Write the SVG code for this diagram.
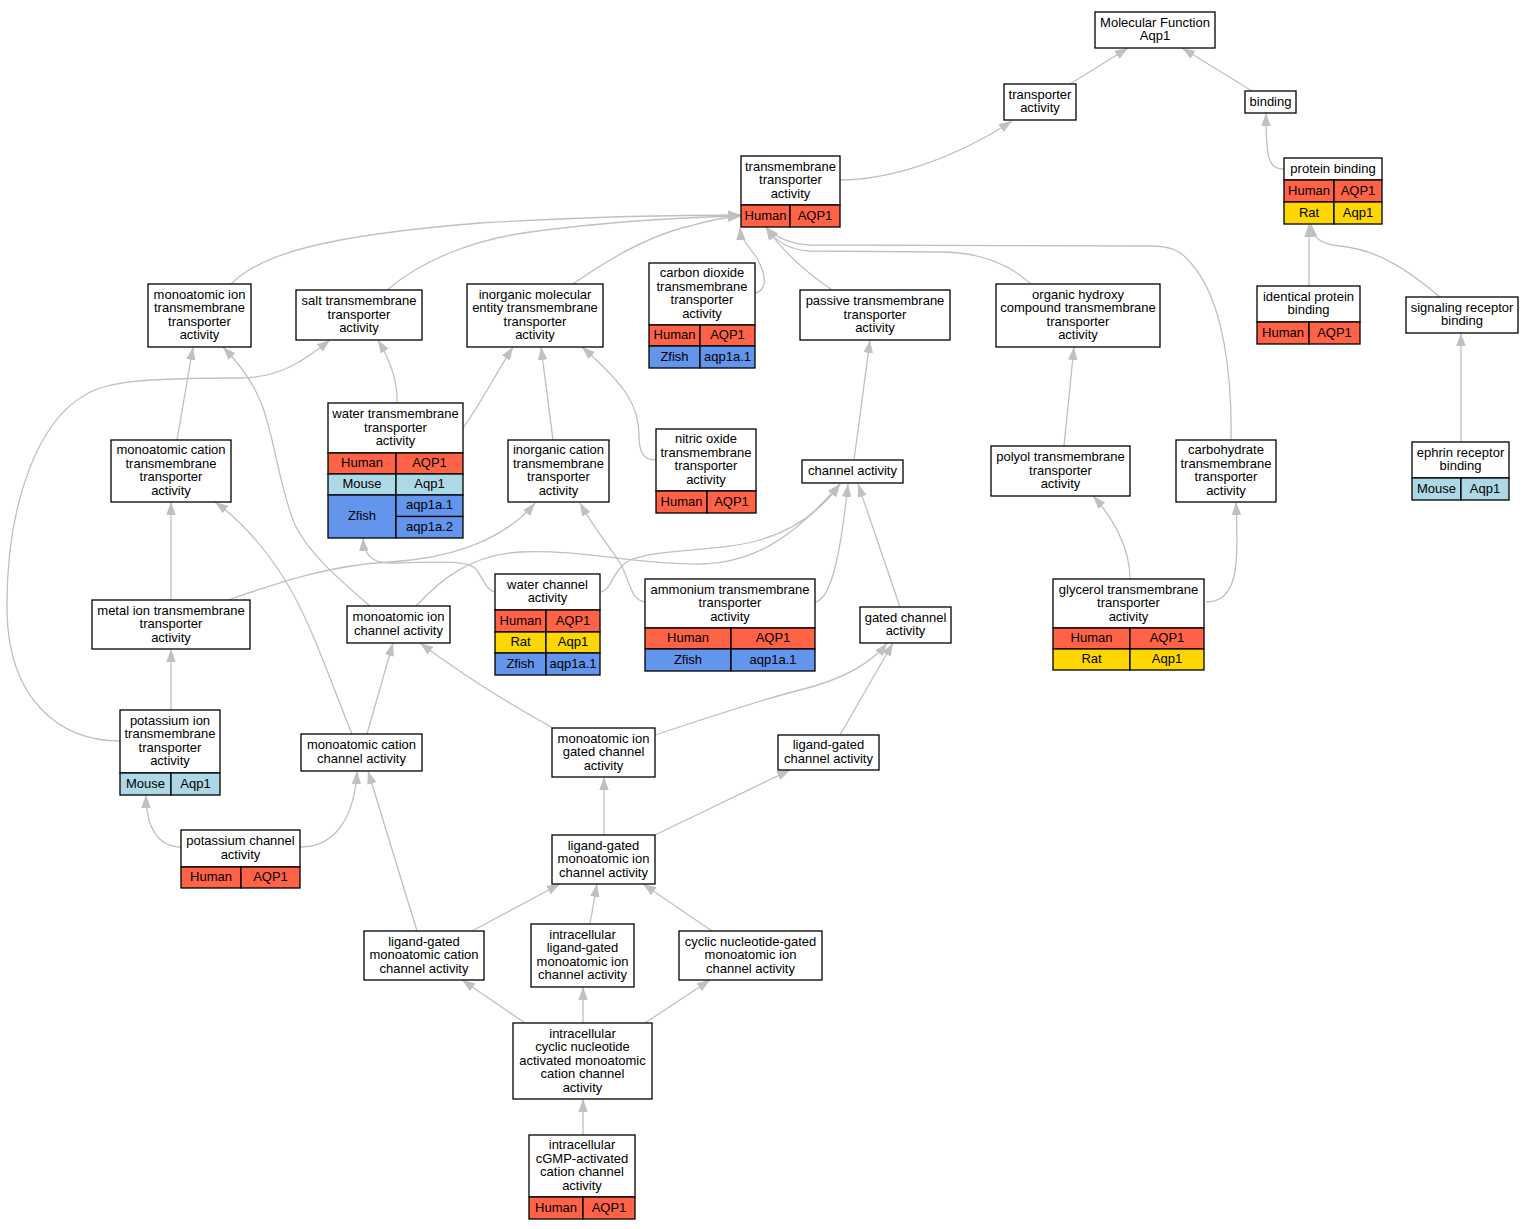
<svg xmlns="http://www.w3.org/2000/svg" width="1534" height="1229" viewBox="0 0 1534 1229">
<style>
.e path{fill:none;stroke:#c0c0c0;stroke-width:1.3;marker-end:url(#ah)}
.n rect{stroke:#000;stroke-width:1.3}
.h{fill:#fff}
.hu{fill:#ff6347}
.mo{fill:#add8e6}
.ra{fill:#ffd700}
.zf{fill:#6495ed}
text{font-family:"Liberation Sans",Arial,sans-serif;font-size:13px;text-anchor:middle;fill:#000}
</style>
<defs>
<marker id="ah" viewBox="0 0 13 9.5" refX="13" refY="4.75" markerWidth="13" markerHeight="9.5" markerUnits="userSpaceOnUse" orient="auto"><path d="M0,0 L13,4.75 L0,9.5 z" fill="#c0c0c0"/></marker>
</defs>
<rect x="0" y="0" width="1534" height="1229" style="fill:#fff;stroke:none"/>
<g id="edges" class="e">
<path d="M1070,84 L1128,48"/>
<path d="M1252,91 L1182,48"/>
<path d="M840,180 C885,180 950,162 1012,121"/>
<path d="M1284,169 C1268,169 1266,158 1266,113"/>
<path d="M1309,286 L1309,224"/>
<path d="M1440,297 C1410,272 1380,250 1340,246 C1320,244 1313,238 1311,224"/>
<path d="M1461,442 L1461,333"/>
<path d="M231,284 C260,255 320,236 480,223 C600,216 700,215 741,215"/>
<path d="M387,290 C420,262 470,240 530,232 C620,220 700,217 741,216"/>
<path d="M573,284 C610,258 650,235 690,226 C710,220 730,217 741,216"/>
<path d="M755,293 C768,290 766,275 757,258 C748,245 741,240 740,227"/>
<path d="M832,290 C810,275 785,255 766,227"/>
<path d="M1031,284 C1010,265 980,252 940,252 L810,251 C790,250 776,243 766,227"/>
<path d="M1231,440 C1232,380 1225,300 1190,262 C1180,250 1170,246 1150,246 L810,245 C790,244 776,238 766,227"/>
<path d="M1064,446 L1074,347"/>
<path d="M1130,579 C1130,550 1115,520 1093,496"/>
<path d="M1206,602 C1240,602 1238,560 1236,502"/>
<path d="M177,440 L193,347"/>
<path d="M397,403 C398,380 390,360 378,340"/>
<path d="M463,428 C480,405 495,375 513,347"/>
<path d="M553,440 L541,347"/>
<path d="M656,460 C642,460 639,450 639,435 C639,405 625,385 582,347"/>
<path d="M854,460 L870,340"/>
<path d="M171,600 L171,502"/>
<path d="M228,600 C280,582 330,565 390,562 C440,559 500,545 535,503"/>
<path d="M171,710 L171,649"/>
<path d="M120,741 C60,741 8,700 7,610 C6,500 40,420 85,395 C105,382 140,378 240,378 C280,378 305,360 330,340"/>
<path d="M181,847 C160,847 146,830 146,795"/>
<path d="M300,847 C340,847 355,810 357,771"/>
<path d="M367,734 L393,643"/>
<path d="M352,734 C330,680 310,620 285,580 C265,548 240,520 215,502"/>
<path d="M370,606 C340,580 310,555 295,525 C280,490 275,440 262,405 C252,380 240,365 223,347"/>
<path d="M416,606 C440,580 470,555 520,552 C580,549 640,565 700,564 C760,563 800,530 840,484"/>
<path d="M495,592 C485,590 482,575 475,568 C465,560 440,562 390,563 C372,563 364,555 363,538"/>
<path d="M601,592 C612,590 612,570 630,560 C660,548 720,552 760,540 C800,528 825,505 840,484"/>
<path d="M645,602 C630,600 630,580 620,563 C605,540 595,530 580,503"/>
<path d="M815,602 C830,600 840,560 848,484"/>
<path d="M900,607 L858,484"/>
<path d="M553,728 C520,710 470,680 420,643"/>
<path d="M655,735 C700,720 760,700 800,690 C840,680 870,665 887,643"/>
<path d="M840,735 L893,643"/>
<path d="M604,835 L604,777"/>
<path d="M655,835 L790,770"/>
<path d="M472,931 L560,884"/>
<path d="M417,931 L368,771"/>
<path d="M590,924 L597,884"/>
<path d="M712,931 L643,884"/>
<path d="M525,1023 L462,980"/>
<path d="M583,1023 L583,987"/>
<path d="M645,1023 L710,980"/>
<path d="M583,1135 L583,1099"/>
</g>
<g id="mf" class="n"><rect class="h" x="1095" y="12" width="120" height="36"/><text x="1155" y="26.75">Molecular Function</text><text x="1155" y="40.25">Aqp1</text></g>
<g id="ta" class="n"><rect class="h" x="1004" y="84" width="72" height="36"/><text x="1040" y="98.75">transporter</text><text x="1040" y="112.25">activity</text></g>
<g id="binding" class="n"><rect class="h" x="1245" y="91" width="51" height="22"/><text x="1270.5" y="105.5">binding</text></g>
<g id="tta" class="n"><rect class="h" x="741" y="156" width="99" height="49"/><text x="790.5" y="170.5">transmembrane</text><text x="790.5" y="184">transporter</text><text x="790.5" y="197.5">activity</text>
<rect class="hu" x="741" y="205" width="49" height="22"/><rect class="hu" x="790" y="205" width="50" height="22"/><text x="765.5" y="219.5">Human</text><text x="815" y="219.5">AQP1</text></g>
<g id="pb" class="n"><rect class="h" x="1284" y="158" width="98" height="22"/><text x="1333" y="172.5">protein binding</text>
<rect class="hu" x="1284" y="180" width="50" height="22"/><rect class="hu" x="1334" y="180" width="48" height="22"/><text x="1309" y="194.5">Human</text><text x="1358" y="194.5">AQP1</text>
<rect class="ra" x="1284" y="202" width="50" height="22"/><rect class="ra" x="1334" y="202" width="48" height="22"/><text x="1309" y="216.5">Rat</text><text x="1358" y="216.5">Aqp1</text></g>
<g id="mitta" class="n"><rect class="h" x="148" y="284" width="103" height="63"/><text x="199.5" y="298.75">monoatomic ion</text><text x="199.5" y="312.25">transmembrane</text><text x="199.5" y="325.75">transporter</text><text x="199.5" y="339.25">activity</text></g>
<g id="salt" class="n"><rect class="h" x="296" y="290" width="126" height="50"/><text x="359" y="305">salt transmembrane</text><text x="359" y="318.5">transporter</text><text x="359" y="332">activity</text></g>
<g id="imetta" class="n"><rect class="h" x="467" y="284" width="136" height="63"/><text x="535" y="298.75">inorganic molecular</text><text x="535" y="312.25">entity transmembrane</text><text x="535" y="325.75">transporter</text><text x="535" y="339.25">activity</text></g>
<g id="co2" class="n"><rect class="h" x="649" y="263" width="106" height="62"/><text x="702" y="277.25">carbon dioxide</text><text x="702" y="290.75">transmembrane</text><text x="702" y="304.25">transporter</text><text x="702" y="317.75">activity</text>
<rect class="hu" x="649" y="325" width="51" height="21"/><rect class="hu" x="700" y="325" width="55" height="21"/><text x="674.5" y="339">Human</text><text x="727.5" y="339">AQP1</text>
<rect class="zf" x="649" y="346" width="51" height="22"/><rect class="zf" x="700" y="346" width="55" height="22"/><text x="674.5" y="360.5">Zfish</text><text x="727.5" y="360.5">aqp1a.1</text></g>
<g id="passive" class="n"><rect class="h" x="800" y="290" width="150" height="50"/><text x="875" y="305">passive transmembrane</text><text x="875" y="318.5">transporter</text><text x="875" y="332">activity</text></g>
<g id="ohc" class="n"><rect class="h" x="996" y="284" width="164" height="63"/><text x="1078" y="298.75">organic hydroxy</text><text x="1078" y="312.25">compound transmembrane</text><text x="1078" y="325.75">transporter</text><text x="1078" y="339.25">activity</text></g>
<g id="ipb" class="n"><rect class="h" x="1257" y="286" width="103" height="36"/><text x="1308.5" y="300.75">identical protein</text><text x="1308.5" y="314.25">binding</text>
<rect class="hu" x="1257" y="322" width="52" height="22"/><rect class="hu" x="1309" y="322" width="51" height="22"/><text x="1283" y="336.5">Human</text><text x="1334.5" y="336.5">AQP1</text></g>
<g id="srb" class="n"><rect class="h" x="1406" y="297" width="112" height="36"/><text x="1462" y="311.75">signaling receptor</text><text x="1462" y="325.25">binding</text></g>
<g id="wtta" class="n"><rect class="h" x="328" y="403" width="135" height="50"/><text x="395.5" y="418">water transmembrane</text><text x="395.5" y="431.5">transporter</text><text x="395.5" y="445">activity</text>
<rect class="hu" x="328" y="453" width="68" height="21"/><rect class="hu" x="396" y="453" width="67" height="21"/><text x="362" y="467">Human</text><text x="429.5" y="467">AQP1</text>
<rect class="mo" x="328" y="474" width="68" height="21"/><rect class="mo" x="396" y="474" width="67" height="21"/><text x="362" y="488">Mouse</text><text x="429.5" y="488">Aqp1</text>
<rect class="zf" x="328" y="495" width="68" height="43"/><text x="362" y="520">Zfish</text>
<rect class="zf" x="396" y="495" width="67" height="21.5"/><text x="429.5" y="509.25">aqp1a.1</text>
<rect class="zf" x="396" y="516.5" width="67" height="21.5"/><text x="429.5" y="530.75">aqp1a.2</text></g>
<g id="mctta" class="n"><rect class="h" x="111" y="440" width="120" height="62"/><text x="171" y="454.25">monoatomic cation</text><text x="171" y="467.75">transmembrane</text><text x="171" y="481.25">transporter</text><text x="171" y="494.75">activity</text></g>
<g id="icta" class="n"><rect class="h" x="508" y="440" width="101" height="62"/><text x="558.5" y="454.25">inorganic cation</text><text x="558.5" y="467.75">transmembrane</text><text x="558.5" y="481.25">transporter</text><text x="558.5" y="494.75">activity</text></g>
<g id="no" class="n"><rect class="h" x="656" y="429" width="100" height="62"/><text x="706" y="443.25">nitric oxide</text><text x="706" y="456.75">transmembrane</text><text x="706" y="470.25">transporter</text><text x="706" y="483.75">activity</text>
<rect class="hu" x="656" y="491" width="51" height="22"/><rect class="hu" x="707" y="491" width="49" height="22"/><text x="681.5" y="505.5">Human</text><text x="731.5" y="505.5">AQP1</text></g>
<g id="ca" class="n"><rect class="h" x="802" y="460" width="101" height="23"/><text x="852.5" y="475">channel activity</text></g>
<g id="polyol" class="n"><rect class="h" x="991" y="446" width="139" height="50"/><text x="1060.5" y="461">polyol transmembrane</text><text x="1060.5" y="474.5">transporter</text><text x="1060.5" y="488">activity</text></g>
<g id="carb" class="n"><rect class="h" x="1176" y="440" width="100" height="62"/><text x="1226" y="454.25">carbohydrate</text><text x="1226" y="467.75">transmembrane</text><text x="1226" y="481.25">transporter</text><text x="1226" y="494.75">activity</text></g>
<g id="ephrin" class="n"><rect class="h" x="1412" y="442" width="97" height="36"/><text x="1460.5" y="456.75">ephrin receptor</text><text x="1460.5" y="470.25">binding</text>
<rect class="mo" x="1412" y="478" width="49" height="22"/><rect class="mo" x="1461" y="478" width="48" height="22"/><text x="1436.5" y="492.5">Mouse</text><text x="1485" y="492.5">Aqp1</text></g>
<g id="metal" class="n"><rect class="h" x="92" y="600" width="158" height="49"/><text x="171" y="614.5">metal ion transmembrane</text><text x="171" y="628">transporter</text><text x="171" y="641.5">activity</text></g>
<g id="mica" class="n"><rect class="h" x="347" y="606" width="103" height="37"/><text x="398.5" y="621.25">monoatomic ion</text><text x="398.5" y="634.75">channel activity</text></g>
<g id="wca" class="n"><rect class="h" x="495" y="574" width="105" height="36"/><text x="547.5" y="588.75">water channel</text><text x="547.5" y="602.25">activity</text>
<rect class="hu" x="495" y="610" width="51" height="22"/><rect class="hu" x="546" y="610" width="54" height="22"/><text x="520.5" y="624.5">Human</text><text x="573" y="624.5">AQP1</text>
<rect class="ra" x="495" y="632" width="51" height="21"/><rect class="ra" x="546" y="632" width="54" height="21"/><text x="520.5" y="646">Rat</text><text x="573" y="646">Aqp1</text>
<rect class="zf" x="495" y="653" width="51" height="22"/><rect class="zf" x="546" y="653" width="54" height="22"/><text x="520.5" y="667.5">Zfish</text><text x="573" y="667.5">aqp1a.1</text></g>
<g id="amm" class="n"><rect class="h" x="645" y="579" width="170" height="49"/><text x="730" y="593.5">ammonium transmembrane</text><text x="730" y="607">transporter</text><text x="730" y="620.5">activity</text>
<rect class="hu" x="645" y="628" width="86" height="21"/><rect class="hu" x="731" y="628" width="84" height="21"/><text x="688" y="642">Human</text><text x="773" y="642">AQP1</text>
<rect class="zf" x="645" y="649" width="86" height="22"/><rect class="zf" x="731" y="649" width="84" height="22"/><text x="688" y="663.5">Zfish</text><text x="773" y="663.5">aqp1a.1</text></g>
<g id="gca" class="n"><rect class="h" x="860" y="607" width="91" height="36"/><text x="905.5" y="621.75">gated channel</text><text x="905.5" y="635.25">activity</text></g>
<g id="gly" class="n"><rect class="h" x="1053" y="579" width="151" height="49"/><text x="1128.5" y="593.5">glycerol transmembrane</text><text x="1128.5" y="607">transporter</text><text x="1128.5" y="620.5">activity</text>
<rect class="hu" x="1053" y="628" width="77" height="21"/><rect class="hu" x="1130" y="628" width="74" height="21"/><text x="1091.5" y="642">Human</text><text x="1167" y="642">AQP1</text>
<rect class="ra" x="1053" y="649" width="77" height="21"/><rect class="ra" x="1130" y="649" width="74" height="21"/><text x="1091.5" y="663">Rat</text><text x="1167" y="663">Aqp1</text></g>
<g id="kta" class="n"><rect class="h" x="120" y="710" width="100" height="63"/><text x="170" y="724.75">potassium ion</text><text x="170" y="738.25">transmembrane</text><text x="170" y="751.75">transporter</text><text x="170" y="765.25">activity</text>
<rect class="mo" x="120" y="773" width="51" height="22"/><rect class="mo" x="171" y="773" width="49" height="22"/><text x="145.5" y="787.5">Mouse</text><text x="195.5" y="787.5">Aqp1</text></g>
<g id="mcca" class="n"><rect class="h" x="301" y="734" width="121" height="37"/><text x="361.5" y="749.25">monoatomic cation</text><text x="361.5" y="762.75">channel activity</text></g>
<g id="migca" class="n"><rect class="h" x="552" y="728" width="103" height="49"/><text x="603.5" y="742.5">monoatomic ion</text><text x="603.5" y="756">gated channel</text><text x="603.5" y="769.5">activity</text></g>
<g id="lgca" class="n"><rect class="h" x="778" y="735" width="101" height="35"/><text x="828.5" y="749.25">ligand-gated</text><text x="828.5" y="762.75">channel activity</text></g>
<g id="kca" class="n"><rect class="h" x="181" y="830" width="119" height="37"/><text x="240.5" y="845.25">potassium channel</text><text x="240.5" y="858.75">activity</text>
<rect class="hu" x="181" y="867" width="60" height="21"/><rect class="hu" x="241" y="867" width="59" height="21"/><text x="211" y="881">Human</text><text x="270.5" y="881">AQP1</text></g>
<g id="lgmica" class="n"><rect class="h" x="552" y="835" width="103" height="49"/><text x="603.5" y="849.5">ligand-gated</text><text x="603.5" y="863">monoatomic ion</text><text x="603.5" y="876.5">channel activity</text></g>
<g id="lgmcca" class="n"><rect class="h" x="364" y="931" width="120" height="49"/><text x="424" y="945.5">ligand-gated</text><text x="424" y="959">monoatomic cation</text><text x="424" y="972.5">channel activity</text></g>
<g id="ilgmica" class="n"><rect class="h" x="531" y="924" width="103" height="63"/><text x="582.5" y="938.75">intracellular</text><text x="582.5" y="952.25">ligand-gated</text><text x="582.5" y="965.75">monoatomic ion</text><text x="582.5" y="979.25">channel activity</text></g>
<g id="cngmica" class="n"><rect class="h" x="679" y="931" width="143" height="49"/><text x="750.5" y="945.5">cyclic nucleotide-gated</text><text x="750.5" y="959">monoatomic ion</text><text x="750.5" y="972.5">channel activity</text></g>
<g id="icnamcca" class="n"><rect class="h" x="513" y="1023" width="139" height="76"/><text x="582.5" y="1037.5">intracellular</text><text x="582.5" y="1051">cyclic nucleotide</text><text x="582.5" y="1064.5">activated monoatomic</text><text x="582.5" y="1078">cation channel</text><text x="582.5" y="1091.5">activity</text></g>
<g id="cgmp" class="n"><rect class="h" x="529" y="1135" width="106" height="62"/><text x="582" y="1149.25">intracellular</text><text x="582" y="1162.75">cGMP-activated</text><text x="582" y="1176.25">cation channel</text><text x="582" y="1189.75">activity</text>
<rect class="hu" x="529" y="1197" width="54" height="22"/><rect class="hu" x="583" y="1197" width="52" height="22"/><text x="556" y="1211.5">Human</text><text x="609" y="1211.5">AQP1</text></g>
</svg>
